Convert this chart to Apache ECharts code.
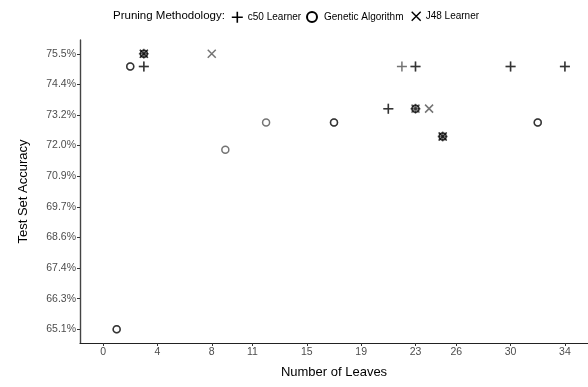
<!DOCTYPE html>
<html>
<head>
<meta charset="utf-8">
<script src="https://cdn.jsdelivr.net/npm/echarts@6/dist/echarts.min.js"></script>
<style>
  html, body { margin: 0; padding: 0; background: #fff; }
  #chart { width: 588px; height: 387px; }
</style>
</head>
<body>
<div id="chart"></div>
<script>
// Test-set accuracy (%) against tree size, per pruning methodology.
// Repeated entries are separate runs that landed on the same result.
const c50Leaves   = [3, 3, 3, 21, 21, 22, 23, 23, 23, 25, 30, 30, 34, 34];
const c50Acc      = [75.03, 75.03, 75.51, 73.44, 73.44, 75.03, 75.03, 75.03, 73.44, 72.39, 75.03, 75.03, 75.03, 75.03];

const gaLeaves    = [1, 1, 2, 2, 3, 3, 9, 12, 17, 17, 23, 23, 25, 25, 32, 32];
const gaAcc       = [65.115, 65.115, 75.03, 75.03, 75.51, 75.51, 71.89, 72.92, 72.92, 72.92, 73.44, 73.44, 72.39, 72.39, 72.92, 72.92];

const j48Leaves   = [3, 3, 8, 23, 24, 25, 25];
const j48Acc      = [75.51, 75.51, 75.51, 73.44, 73.44, 72.39, 72.39];

const seriesNames = ['c50 Learner', 'Genetic Algorithm', 'J48 Learner'];
const legendTitle = 'Pruning Methodology:';

// Axis breaks
const xTicks = [0, 4, 8, 11, 15, 19, 23, 26, 30, 34];
const yTickLabels = ['65.1%', '66.3%', '67.4%', '68.6%', '69.7%', '70.9%', '72.0%', '73.2%', '74.4%', '75.5%'];
const yLow = 65.115, yHigh = 75.51;

const yStep = (yHigh - yLow) / (yTickLabels.length - 1);
const yTicks = yTickLabels.map((_, i) => yLow + i * yStep);
const yPad = (yHigh - yLow) * 0.05;
const xPad = (xTicks[xTicks.length - 1] - xTicks[0]) * 0.05;

const zip = (xs, ys) => xs.map((x, i) => [x, ys[i]]);

const FONT = 'Liberation Sans, Arial, sans-serif';
const PLUS = 'path://M0,-1L0,1M-1,0L1,0';
const CROSS = 'path://M-1,-1L1,1M1,-1L-1,1';
const symbols = [PLUS, 'circle', CROSS];

const markStyle = {
  color: 'rgba(0,0,0,0)',
  borderColor: '#000',
  borderWidth: 1.5,
  opacity: 0.55
};

// One legend block per methodology so each key sits at its own spot
const legendLefts = [231, 306, 411];
const legendIconW = [11, 14, 9];
const legendIconH = [11, 10, 9];
const legendBorder = [1.6, 2, 1.4];
const legends = seriesNames.map((name, i) => ({
  left: legendLefts[i],
  top: 11,
  padding: 0,
  itemWidth: legendIconW[i],
  itemHeight: legendIconH[i],
  textStyle: { fontSize: 10, color: '#000', fontFamily: FONT },
  data: [{
    name,
    icon: symbols[i],
    itemStyle: { color: 'rgba(0,0,0,0)', borderColor: '#000', borderWidth: legendBorder[i], opacity: 1 }
  }]
}));

const chart = echarts.init(document.getElementById('chart'), null, { renderer: 'canvas' });

chart.setOption({
  animation: false,
  backgroundColor: '#fff',
  textStyle: { fontFamily: FONT },
  grid: { left: 80, right: 0, top: 40, bottom: 44 },
  graphic: [{
    type: 'text',
    left: 113,
    top: 10,
    style: { text: legendTitle, fontSize: 11.5, fill: '#000', fontFamily: FONT }
  }],
  legend: legends,
  xAxis: {
    type: 'value',
    min: xTicks[0] - xPad,
    max: xTicks[xTicks.length - 1] + xPad,
    name: 'Number of Leaves',
    nameLocation: 'middle',
    nameGap: 23,
    nameTextStyle: { fontSize: 13, color: '#000' },
    axisLine: { show: true, onZero: false, lineStyle: { color: '#222', width: 1.2 } },
    axisTick: { show: true, length: 3, customValues: xTicks, lineStyle: { color: '#333' } },
    axisLabel: { customValues: xTicks, fontSize: 10.5, color: '#4d4d4d', margin: 4 },
    splitLine: { show: false }
  },
  yAxis: {
    type: 'value',
    min: yLow - yPad,
    max: yHigh + yPad,
    name: 'Test Set Accuracy',
    nameLocation: 'middle',
    nameGap: 50,
    nameRotate: 90,
    nameTextStyle: { fontSize: 13, color: '#000' },
    axisLine: { show: true, onZero: false, lineStyle: { color: '#444', width: 1.4 } },
    axisTick: { show: true, length: 3, customValues: yTicks, lineStyle: { color: '#333' } },
    axisLabel: {
      customValues: yTicks,
      fontSize: 10.5,
      color: '#4d4d4d',
      margin: 4,
      formatter: (v) => {
        let best = 0;
        yTicks.forEach((t, i) => { if (Math.abs(t - v) < Math.abs(yTicks[best] - v)) best = i; });
        return yTickLabels[best];
      }
    },
    splitLine: { show: false }
  },
  series: [
    {
      name: seriesNames[0], type: 'scatter', symbol: PLUS, symbolSize: 10,
      itemStyle: markStyle, data: zip(c50Leaves, c50Acc)
    },
    {
      name: seriesNames[1], type: 'scatter', symbol: 'circle', symbolSize: 7,
      itemStyle: markStyle, data: zip(gaLeaves, gaAcc)
    },
    {
      name: seriesNames[2], type: 'scatter', symbol: CROSS, symbolSize: 8,
      itemStyle: markStyle, data: zip(j48Leaves, j48Acc)
    }
  ]
});
</script>
</body>
</html>
